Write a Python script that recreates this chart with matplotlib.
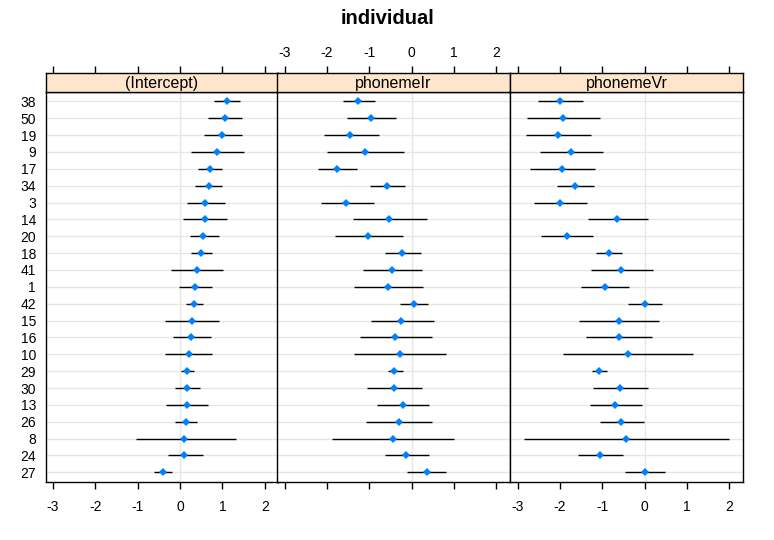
import matplotlib
matplotlib.use("Agg")
import matplotlib.pyplot as plt
import numpy as np

plt.rcParams['font.family'] = ['Liberation Sans', 'DejaVu Sans']
plt.rcParams['axes.unicode_minus'] = False

# subjects, from bottom row to top row
subjects = ['27', '24', '8', '26', '13', '30', '29', '10', '16', '15', '42', '1',
            '41', '18', '20', '14', '3', '34', '17', '9', '19', '50', '38']

panels = ['(Intercept)', 'phonemeIr', 'phonemeVr']

# random effect estimates (same order as subjects)
est_int = [-0.41, 0.10, 0.10, 0.13, 0.16, 0.16, 0.16, 0.21, 0.25, 0.27, 0.32, 0.35,
           0.39, 0.49, 0.55, 0.58, 0.58, 0.68, 0.70, 0.87, 0.98, 1.06, 1.10]
lo_int = [-0.62, -0.29, -1.05, -0.13, -0.34, -0.13, 0.02, -0.36, -0.17, -0.36, 0.14, -0.02,
          -0.21, 0.26, 0.23, 0.06, 0.16, 0.35, 0.43, 0.25, 0.57, 0.66, 0.80]
hi_int = [-0.20, 0.53, 1.32, 0.39, 0.67, 0.48, 0.32, 0.76, 0.72, 0.91, 0.53, 0.76,
          1.02, 0.75, 0.91, 1.10, 1.06, 1.00, 1.00, 1.50, 1.45, 1.47, 1.41]

est_ir = [0.36, -0.13, -0.44, -0.30, -0.20, -0.42, -0.42, -0.28, -0.39, -0.25, 0.05, -0.57,
          -0.46, -0.23, -1.03, -0.53, -1.55, -0.59, -1.76, -1.11, -1.46, -0.96, -1.27]
lo_ir = [-0.10, -0.62, -1.87, -1.07, -0.81, -1.05, -0.57, -1.35, -1.23, -0.97, -0.27, -1.35,
         -1.16, -0.62, -1.82, -1.38, -2.15, -0.98, -2.20, -1.99, -2.08, -1.52, -1.63]
hi_ir = [0.82, 0.40, 1.01, 0.47, 0.42, 0.24, -0.21, 0.82, 0.49, 0.52, 0.38, 0.26,
         0.24, 0.22, -0.21, 0.35, -0.90, -0.16, -1.30, -0.19, -0.78, -0.38, -0.87]

est_vr = [0.01, -1.05, -0.45, -0.57, -0.70, -0.59, -1.08, -0.40, -0.61, -0.61, 0.01, -0.94,
          -0.56, -0.84, -1.83, -0.65, -1.99, -1.64, -1.95, -1.74, -2.05, -1.93, -1.99]
lo_vr = [-0.46, -1.57, -2.84, -1.05, -1.28, -1.22, -1.24, -1.92, -1.38, -1.55, -0.39, -1.50,
         -1.27, -1.14, -2.44, -1.33, -2.60, -2.08, -2.70, -2.46, -2.79, -2.77, -2.51]
hi_vr = [0.47, -0.52, 1.98, -0.02, -0.07, 0.07, -0.90, 1.14, 0.17, 0.33, 0.40, -0.38,
         0.19, -0.54, -1.23, 0.07, -1.37, -1.20, -1.18, -0.99, -1.27, -1.06, -1.46]

data = [(est_int, lo_int, hi_int), (est_ir, lo_ir, hi_ir), (est_vr, lo_vr, hi_vr)]
xticks = [-3, -2, -1, 0, 1, 2]

W, H = 774, 540
fig = plt.figure(figsize=(W / 100, H / 100), dpi=100)

lefts = [45.7, 277.3, 510.3]
pw = 232.3
top_strip, bot_strip, bot_panel = 72.7, 91.7, 482.0
xlim = (-3.17, 2.31)
y = np.arange(len(subjects))

for i, name in enumerate(panels):
    est, lo, hi = data[i]
    ax = fig.add_axes([lefts[i] / W, (H - bot_panel) / H, pw / W, (bot_panel - bot_strip) / H])
    for yy in y:
        ax.axhline(yy, color='#e6e6e6', lw=1, zorder=0)
    ax.axvline(0, color='#e6e6e6', lw=1, zorder=0)
    ax.hlines(y, lo, hi, color='black', lw=1, zorder=2)
    ax.plot(est, y, 'D', color='#0080ff', markersize=4.5, zorder=3, markeredgewidth=0)
    ax.set_xlim(xlim)
    ax.set_ylim(-0.575, len(subjects) - 1 + 0.575)
    ax.set_xticks(xticks)
    ax.tick_params(axis='x', direction='out', length=5, width=1, labelsize=10, pad=8)
    if i == 1:
        ax.tick_params(axis='x', labelbottom=False)
    if i == 0:
        ax.set_yticks(y)
        ax.set_yticklabels(subjects)
        ax.tick_params(axis='y', length=0, labelsize=10, pad=7)
    else:
        ax.set_yticks([])
    for sp in ax.spines.values():
        sp.set_linewidth(1)

    # strip with the panel name, carries the top ticks
    sx = fig.add_axes([lefts[i] / W, (H - bot_strip) / H, pw / W, (bot_strip - top_strip) / H])
    sx.set_facecolor('#ffe5cc')
    sx.set_xlim(xlim)
    sx.set_yticks([])
    sx.set_xticks(xticks)
    sx.xaxis.tick_top()
    sx.tick_params(axis='x', direction='out', length=5, width=1, labelsize=10, pad=4)
    if i != 1:
        sx.tick_params(axis='x', labeltop=False)
    sx.text(0.5, 0.45, name, transform=sx.transAxes, ha='center', va='center', fontsize=11.5)
    for sp in sx.spines.values():
        sp.set_linewidth(1)

fig.text(0.5, 1 - 19 / H, 'individual', ha='center', va='center', fontsize=14.5, fontweight='bold')

fig.savefig('out.png', dpi=100)
